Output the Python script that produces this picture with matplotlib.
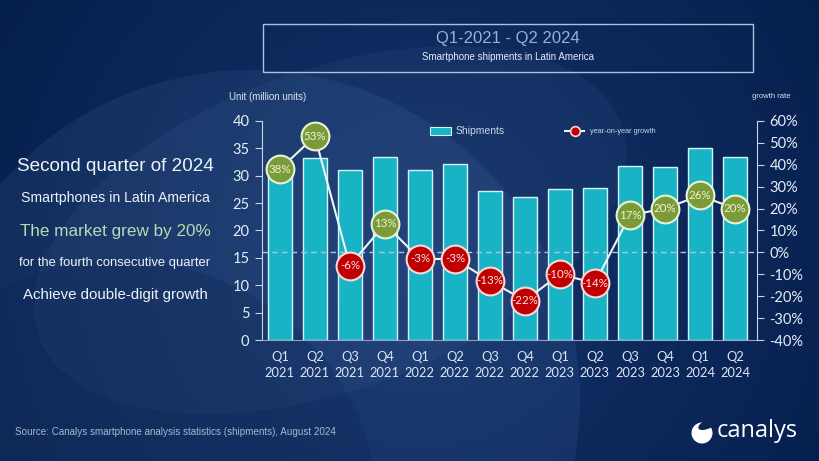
import numpy as np
import matplotlib
matplotlib.use("Agg")
import matplotlib.pyplot as plt
from matplotlib.patches import Circle, Rectangle, Ellipse

# data
quarters = ["Q1\n2021", "Q2\n2021", "Q3\n2021", "Q4\n2021",
            "Q1\n2022", "Q2\n2022", "Q3\n2022", "Q4\n2022",
            "Q1\n2023", "Q2\n2023", "Q3\n2023", "Q4\n2023",
            "Q1\n2024", "Q2\n2024"]
shipments = [30.8, 33.2, 31.1, 33.4, 31.0, 32.2, 27.2, 26.1,
             27.6, 27.8, 31.7, 31.6, 35.0, 33.5]
growth = [38, 53, -6, 13, -3, -3, -13, -22, -10, -14, 17, 20, 26, 20]

left_ticks = [0, 5, 10, 15, 20, 25, 30, 35, 40]
right_ticks = [-40, -30, -20, -10, 0, 10, 20, 30, 40, 50, 60]

side_lines = ["Second quarter of 2024", "Smartphones in Latin America",
              "The market grew by 20%", "for the fourth consecutive quarter",
              "Achieve double-digit growth"]

W, H = 820, 461
fig = plt.figure(figsize=(W / 100, H / 100), dpi=100)

# background
bg = fig.add_axes([0, 0, 1, 1], zorder=-5)
bg.set_xlim(0, W)
bg.set_ylim(H, 0)
bg.axis("off")
yy, xx = np.mgrid[0:H, 0:W]
d = np.sqrt((xx - 420) ** 2 + (yy - 250) ** 2) / 500
c1 = np.array([0.08, 0.20, 0.42])
c2 = np.array([0.02, 0.12, 0.30])
grad = c1[None, None, :] * (1 - d[..., None]) + c2[None, None, :] * d[..., None]
bg.imshow(np.clip(grad, 0, 1), extent=[0, W, H, 0], aspect="auto")
bg.add_patch(Circle((250, 400), 330, color="#6f9bd6", alpha=0.10, lw=0))
bg.add_patch(Ellipse((330, 230), 620, 320, angle=-20, color="#9cc0ec", alpha=0.05, lw=0))
bg.add_patch(Circle((120, 520), 260, color="#0a2350", alpha=0.25, lw=0))

# title box
bg.add_patch(Rectangle((263, 24), 490, 48, fill=False, ec="#a9c2dd", lw=1.0))
bg.text(508, 38, "Q1-2021 - Q2 2024", ha="center", va="center",
        fontsize=12, color="#93b2d6", family="Liberation Sans")
bg.text(508, 57, "Smartphone shipments in Latin America", ha="center",
        va="center", fontsize=7, color="#e3ebf4", family="Liberation Sans")

# side text
side_y = [166, 198, 231, 263, 295]
side_size = [13.6, 10.2, 12.3, 9.4, 10.8]
side_col = ["#eef3f8", "#eef3f8", "#b9d9b3", "#eef3f8", "#eef3f8"]
for t, y, s, c in zip(side_lines, side_y, side_size, side_col):
    bg.text(115, y, t, ha="center", va="center", fontsize=s, color=c,
            family="Liberation Sans")

bg.text(15, 432, "Source: Canalys smartphone analysis statistics (shipments), August 2024",
        ha="left", va="center", fontsize=7.1, color="#a3b8d2", family="Liberation Sans")

# logo
bg.add_patch(Circle((702, 433), 10.5, color="white", lw=0))
bg.add_patch(Ellipse((708, 424), 21, 9, angle=-25, color="#0b2452", lw=0))
bg.text(717, 431, "canalys", ha="left", va="center", fontsize=17,
        color="white", family="Open Sans")

bg.text(229, 97, "Unit (million units)", ha="left", va="center",
        fontsize=7, color="#d8e2ee", family="Liberation Sans")
bg.text(752, 96, "growth rate", ha="left", va="center",
        fontsize=5.5, color="#d8e2ee", family="Liberation Sans")

# main chart
ax = fig.add_axes([262 / W, 1 - 340 / H, 495 / W, 219 / H])
ax.patch.set_alpha(0)
x = np.arange(len(quarters))
ax.bar(x, shipments, width=0.69, color="#18b4c6", edgecolor="#d6f2f4", lw=1.0, zorder=2)
ax.set_xlim(-0.51, 13.63)
ax.set_ylim(0, 40)
ax.set_yticks(left_ticks)
ax.set_xticks(x)
ax.set_xticklabels(quarters, fontsize=9.3, color="#dce6f2", family="Lato", linespacing=1.35)
ax.tick_params(axis="x", length=0, pad=8)
ax.tick_params(axis="y", colors="#c8d4e2", labelcolor="#e6edf5", labelsize=10.5, length=5, pad=4)
for lab in ax.get_yticklabels():
    lab.set_family("Lato")
for sp in ["top", "right"]:
    ax.spines[sp].set_visible(False)
ax.spines["left"].set_color("#c8d4e2")
ax.spines["bottom"].set_color("#8ea3bd")

ax2 = ax.twinx()
ax2.set_ylim(-40, 60)
ax2.set_yticks(right_ticks)
ax2.set_yticklabels([f"{v}%" for v in right_ticks], family="Lato")
ax2.tick_params(axis="y", colors="#c8d4e2", labelcolor="#e6edf5", labelsize=10.5, length=5, pad=4)
for sp in ["top", "left", "bottom"]:
    ax2.spines[sp].set_visible(False)
ax2.spines["right"].set_color("#c8d4e2")

ax2.axhline(0, color="#a9c6e0", lw=1.0, ls=(0, (4, 3)), zorder=3)
ax2.plot(x, growth, color="#eef6f8", lw=1.5, zorder=4)
for xi, g in zip(x, growth):
    if g >= 0:
        fc, ec, tc = "#7b9b3b", "#e6f2d6", "#f4f2cc"
    else:
        fc, ec, tc = "#c00000", "#f6d8d8", "#ffe6e6"
    ax2.plot(xi, g, "o", ms=20, mfc=fc, mec=ec, mew=1.5, zorder=5)
    ax2.text(xi, g, f"{g}%", ha="center", va="center", fontsize=8.3,
             color=tc, family="Lato", zorder=6)

# legend
bg.add_patch(Rectangle((430, 127), 21, 8, fc="#18b4c6", ec="#d6f2f4", lw=0.8))
bg.text(456, 131, "Shipments", ha="left", va="center", fontsize=7.5,
        color="#c8d6e6", family="Liberation Sans")
bg.plot([565, 584], [131, 131], color="#eef6f8", lw=1.5)
bg.plot([575], [131], "o", ms=7, mfc="#c00000", mec="#f6d8d8", mew=1.2)
bg.text(590, 131, "year-on-year growth", ha="left", va="center", fontsize=5.3,
        color="#c8d6e6", family="Liberation Sans")

fig.savefig("out.png", dpi=100)
